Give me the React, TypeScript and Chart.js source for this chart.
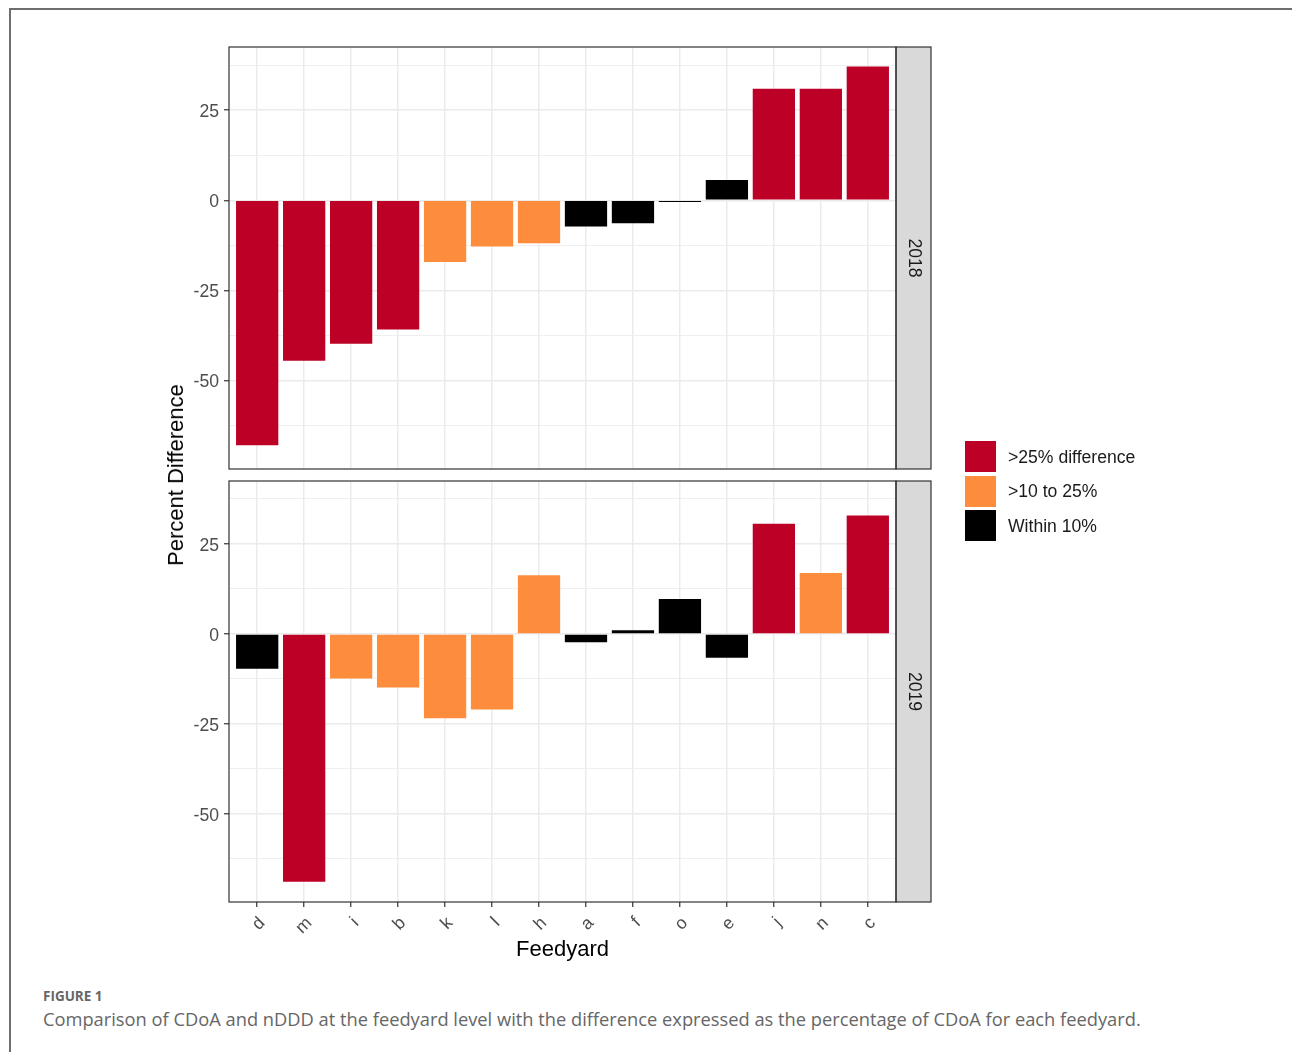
import React, { useEffect, useRef } from "react";
import { Chart, registerables } from "chart.js";

Chart.register(...registerables);

// ---------------- data ----------------
const feedyards = ["d", "m", "i", "b", "k", "l", "h", "a", "f", "o", "e", "j", "n", "c"];
const diff2018 = [-67.9, -44.5, -39.8, -35.8, -17.1, -12.8, -11.9, -7.3, -6.4, -0.5, 5.6, 30.9, 30.9, 37.1];
const diff2019 = [-9.7, -68.9, -12.4, -14.9, -23.4, -21.0, 16.3, -2.3, 1.0, 9.7, -6.6, 30.6, 16.9, 32.9];
const yMajorTicks = [-50, -25, 0, 25];
const yMinorTicks = [-62.5, -37.5, -12.5, 12.5, 37.5];
const panelLabels = ["2018", "2019"];
const legendLabels = [">25% difference", ">10 to 25%", "Within 10%"];

// ---------------- styles ----------------
const classColors = ["#BD0026", "#FD8D3C", "#000000"];
const FONT = "'Liberation Sans', Arial, Helvetica, sans-serif";
const Y_MIN = -74.5;
const Y_MAX = 42.5;
const X_EXPAND = 0.6; // ggplot discrete expansion

function classIndex(v: number): number {
  const a = Math.abs(v);
  if (a > 25) return 0;
  if (a > 10) return 1;
  return 2;
}

function panelPlugin(label: string) {
  return {
    id: "panelStrip" + label,
    afterDraw(chart: any) {
      const { ctx, chartArea } = chart;
      const { left, right, top, bottom } = chartArea;
      ctx.save();
      const sw = 35;
      ctx.fillStyle = "#D9D9D9";
      ctx.fillRect(right, top, sw, bottom - top);
      ctx.strokeStyle = "#333333";
      ctx.lineWidth = 1.2;
      ctx.strokeRect(right, top, sw, bottom - top);
      ctx.strokeRect(left, top, right - left, bottom - top);
      ctx.translate(right + sw / 2, (top + bottom) / 2);
      ctx.rotate(Math.PI / 2);
      ctx.fillStyle = "#1A1A1A";
      ctx.font = `17.6px ${FONT}`;
      ctx.textAlign = "center";
      ctx.textBaseline = "middle";
      ctx.fillText(label, 0, 0);
      ctx.restore();
    },
  };
}

function makeConfig(values: number[], label: string, isBottom: boolean, padTop: number, padBottom: number): any {
  const allTicks = [...yMinorTicks, ...yMajorTicks].sort((a, b) => a - b);
  return {
    type: "bar",
    data: {
      datasets: [
        {
          data: values.map((v, i) => ({ x: i, y: v })),
          backgroundColor: values.map((v) => classColors[classIndex(v)]),
          borderWidth: 0,
          barPercentage: 0.9,
          categoryPercentage: 1.0,
        },
      ],
    },
    options: {
      animation: false,
      responsive: false,
      maintainAspectRatio: false,
      layout: { padding: { top: padTop, right: 396, bottom: padBottom, left: 0 } },
      plugins: { legend: { display: false }, tooltip: { enabled: false } },
      scales: {
        x: {
          type: "linear",
          offset: false,
          min: -X_EXPAND,
          max: feedyards.length - 1 + X_EXPAND,
          afterBuildTicks: (s: any) => {
            s.ticks = feedyards.map((_, i) => ({ value: i }));
          },
          grid: {
            offset: false,
            color: "#EBEBEB",
            lineWidth: 1.5,
            drawTicks: isBottom,
            tickLength: 5,
            tickColor: "#333333",
            tickWidth: 1.2,
          },
          border: { display: false },
          ticks: {
            display: isBottom,
            autoSkip: false,
            minRotation: 45,
            maxRotation: 45,
            color: "#4D4D4D",
            font: { family: FONT, size: 17.6 },
            padding: 6,
            labelOffset: 5,
            callback: (v: any) => feedyards[Math.round(Number(v))] ?? "",
          },
          title: {
            display: isBottom,
            text: "Feedyard",
            color: "#000000",
            font: { family: FONT, size: 22 },
            padding: { top: 0, bottom: 17 },
          },
          afterFit: (s: any) => {
            s.height = isBottom ? 78 : 0;
          },
        },
        y: {
          min: Y_MIN,
          max: Y_MAX,
          afterBuildTicks: (s: any) => {
            s.ticks = allTicks.map((v) => ({ value: v }));
          },
          ticks: {
            color: "#4D4D4D",
            font: { family: FONT, size: 17.6 },
            padding: 5,
            labelOffset: 2,
            callback: (v: any) => (yMajorTicks.includes(Number(v)) ? String(v) : ""),
          },
          grid: {
            color: "#EBEBEB",
            lineWidth: (c: any) => (c.tick && yMajorTicks.includes(c.tick.value) ? 1.5 : 0.8),
            tickLength: 5,
            tickWidth: 1.2,
            tickColor: (c: any) =>
              c.tick && yMajorTicks.includes(c.tick.value) ? "#333333" : "rgba(0,0,0,0)",
          },
          border: { display: false },
          afterFit: (s: any) => {
            s.width = 229;
          },
        },
      },
    },
    plugins: [panelPlugin(label)],
  };
}

function Panel({ values, label, isBottom, top, height, padTop, padBottom }: any) {
  const ref = useRef<HTMLCanvasElement | null>(null);
  useEffect(() => {
    if (!ref.current) return;
    const chart = new Chart(ref.current, makeConfig(values, label, isBottom, padTop, padBottom));
    return () => chart.destroy();
  }, []);
  return (
    <canvas
      ref={ref}
      width={1292}
      height={height}
      style={{ position: "absolute", left: 0, top, width: 1292, height }}
    />
  );
}

export default function App() {
  return (
    <div
      style={{
        position: "absolute",
        left: 0,
        top: 0,
        width: 1292,
        height: 1052,
        background: "#ffffff",
        overflow: "hidden",
        fontFamily: FONT,
      }}
    >
      <div
        style={{
          position: "absolute",
          left: 9,
          top: 8,
          width: 1292,
          height: 1100,
          borderTop: "2px solid #6E6E6E",
          borderLeft: "2px solid #6E6E6E",
        }}
      />
      <Panel values={diff2018} label={panelLabels[0]} isBottom={false} top={0} height={487} padTop={47} padBottom={18} />
      <Panel values={diff2019} label={panelLabels[1]} isBottom={true} top={463} height={517} padTop={18} padBottom={0} />

      <div
        style={{
          position: "absolute",
          left: 176,
          top: 475,
          transform: "translate(-50%, -50%) rotate(-90deg)",
          whiteSpace: "nowrap",
          fontSize: 22,
          lineHeight: "22px",
          color: "#000000",
        }}
      >
        Percent Difference
      </div>

      {legendLabels.map((t, i) => (
        <div key={t}>
          <div
            style={{
              position: "absolute",
              left: 965,
              top: 441 + i * 34.5,
              width: 31,
              height: 31,
              background: classColors[i],
            }}
          />
          <div
            style={{
              position: "absolute",
              left: 1008,
              top: 441 + i * 34.5 + 15.5 - 11,
              height: 22,
              lineHeight: "22px",
              fontSize: 17.6,
              color: "#1A1A1A",
              whiteSpace: "nowrap",
            }}
          >
            {t}
          </div>
        </div>
      ))}

      <div
        style={{
          position: "absolute",
          left: 43,
          top: 987,
          fontFamily: "'Open Sans', 'Noto Sans', sans-serif",
          fontWeight: 700,
          fontSize: 13.5,
          lineHeight: "18px",
          color: "#666666",
          whiteSpace: "nowrap",
        }}
      >
        FIGURE 1
      </div>
      <div
        style={{
          position: "absolute",
          left: 43,
          top: 1006,
          fontFamily: "'Open Sans', 'Noto Sans', sans-serif",
          fontSize: 18.3,
          lineHeight: "26px",
          color: "#666666",
          whiteSpace: "nowrap",
        }}
      >
        Comparison of CDoA and nDDD at the feedyard level with the difference expressed as the percentage of CDoA for each feedyard.
      </div>
    </div>
  );
}
